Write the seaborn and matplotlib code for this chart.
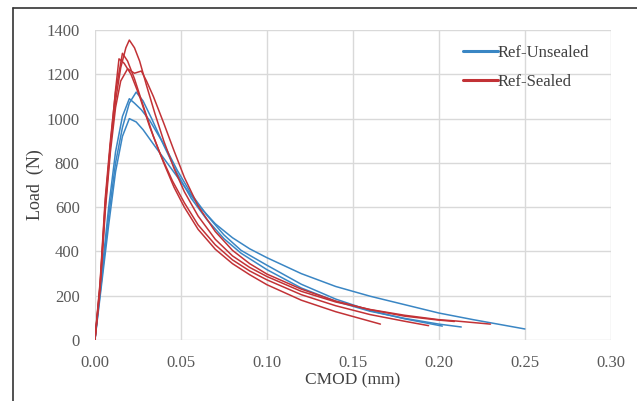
import numpy as np
import pandas as pd
import matplotlib
matplotlib.use("Agg")
import matplotlib.pyplot as plt
import seaborn as sns
from matplotlib.lines import Line2D

# CMOD (mm) / Load (N)
b1_cmod = [0, 0.004, 0.008, 0.012, 0.016, 0.020, 0.024, 0.028, 0.033, 0.040, 0.048, 0.056,
           0.065, 0.075, 0.085, 0.100, 0.120, 0.140, 0.160, 0.180, 0.200, 0.213]
b1_load = [0, 280, 560, 800, 960, 1070, 1120, 1080, 1000, 880, 750, 640,
           545, 458, 392, 318, 235, 175, 130, 98, 72, 59]

b2_cmod = [0, 0.004, 0.008, 0.012, 0.016, 0.020, 0.023, 0.027, 0.032, 0.040, 0.048, 0.056,
           0.065, 0.075, 0.085, 0.100, 0.120, 0.140, 0.160, 0.180, 0.202]
b2_load = [0, 300, 600, 850, 1010, 1090, 1070, 1040, 990, 885, 765, 660,
           565, 475, 405, 338, 252, 185, 133, 96, 63]

b3_cmod = [0, 0.004, 0.008, 0.012, 0.016, 0.020, 0.024, 0.028, 0.034, 0.042, 0.050, 0.060,
           0.070, 0.080, 0.090, 0.100, 0.120, 0.140, 0.160, 0.180, 0.200, 0.220, 0.240, 0.250]
b3_load = [0, 260, 520, 760, 920, 1000, 985, 950, 885, 800, 715, 610,
           525, 462, 412, 372, 300, 242, 198, 160, 122, 92, 64, 50]

r1_cmod = [0, 0.003, 0.006, 0.009, 0.012, 0.015, 0.018, 0.020, 0.023, 0.026, 0.030, 0.035,
           0.040, 0.046, 0.052, 0.060, 0.070, 0.080, 0.090, 0.100, 0.120, 0.140, 0.160, 0.180,
           0.200, 0.210, 0.230]
r1_load = [0, 250, 620, 880, 1080, 1230, 1320, 1355, 1320, 1260, 1150, 1020,
           900, 775, 670, 560, 455, 380, 328, 287, 220, 172, 138, 112,
           92, 86, 72]

r2_cmod = [0, 0.003, 0.006, 0.009, 0.012, 0.016, 0.019, 0.023, 0.028, 0.034, 0.040, 0.046,
           0.052, 0.060, 0.070, 0.080, 0.090, 0.100, 0.120, 0.140, 0.166]
r2_load = [0, 260, 640, 900, 1120, 1295, 1260, 1180, 1060, 920, 800, 690,
           600, 500, 410, 345, 295, 250, 180, 128, 72]

r3_cmod = [0, 0.003, 0.006, 0.009, 0.012, 0.014, 0.017, 0.021, 0.026, 0.032, 0.038, 0.045,
           0.052, 0.060, 0.070, 0.080, 0.090, 0.100, 0.120, 0.140, 0.160, 0.180, 0.194]
r3_load = [0, 240, 600, 880, 1130, 1270, 1250, 1200, 1100, 960, 840, 720,
           620, 520, 430, 362, 312, 272, 205, 155, 115, 85, 65]

r4_cmod = [0, 0.003, 0.006, 0.009, 0.012, 0.015, 0.019, 0.023, 0.027, 0.030, 0.034, 0.040,
           0.046, 0.052, 0.060, 0.070, 0.080, 0.090, 0.100, 0.120, 0.140, 0.160, 0.180, 0.200, 0.209]
r4_load = [0, 230, 580, 850, 1050, 1170, 1225, 1205, 1215, 1170, 1100, 980,
           855, 735, 605, 490, 405, 345, 298, 230, 176, 137, 108, 90, 84]

groups = ["Ref-Unsealed", "Ref-Sealed"]
colors = {"Ref-Unsealed": "#3a86c4", "Ref-Sealed": "#c23236"}

x_ticks = [0.00, 0.05, 0.10, 0.15, 0.20, 0.25, 0.30]
y_ticks = [0, 200, 400, 600, 800, 1000, 1200, 1400]


def BuildFrame():
    curves = [
        ("B1", groups[0], b1_cmod, b1_load),
        ("B2", groups[0], b2_cmod, b2_load),
        ("B3", groups[0], b3_cmod, b3_load),
        ("R1", groups[1], r1_cmod, r1_load),
        ("R2", groups[1], r2_cmod, r2_load),
        ("R3", groups[1], r3_cmod, r3_load),
        ("R4", groups[1], r4_cmod, r4_load),
    ]
    parts = []
    for name, grp, xs, ys in curves:
        parts.append(pd.DataFrame({"cmod": xs, "load": ys, "specimen": name, "group": grp}))
    return pd.concat(parts, ignore_index=True)


def PlotGraph(df):
    sns.set_style("white")
    plt.rcParams['font.family'] = ['Liberation Serif', 'DejaVu Serif']

    fig = plt.figure(figsize=(6.37, 4.01), dpi=100)
    ax = fig.add_axes([0.149, 0.152, 0.81, 0.773])

    sns.lineplot(data=df, x="cmod", y="load", hue="group", units="specimen",
                 estimator=None, sort=False, palette=colors, linewidth=1.1,
                 legend=False, ax=ax)

    ax.set_xlim(0, 0.30)
    ax.set_ylim(0, 1400)
    ax.set_xticks(x_ticks)
    ax.set_yticks(y_ticks)
    ax.set_xticklabels([f"{v:.2f}" for v in x_ticks])
    ax.grid(True, color="#d9d9d9", linewidth=1.0)
    ax.set_axisbelow(True)
    for s in ax.spines.values():
        s.set_visible(False)
    ax.tick_params(axis="both", length=0, labelsize=12, labelcolor="#595959")
    ax.tick_params(axis="x", pad=11)
    ax.tick_params(axis="y", pad=11)

    ax.set_xlabel("CMOD (mm)", fontsize=12.5, color="#404040", labelpad=1)
    ax.set_ylabel("Load  (N)", fontsize=13, color="#404040", labelpad=2)

    handles = [Line2D([0], [0], color=colors[g], linewidth=2.2) for g in groups]
    ax.legend(handles, groups, loc="upper left", bbox_to_anchor=(0.684, 1.0),
              frameon=False, fontsize=12, handlelength=2.1, handletextpad=0.0,
              labelspacing=0.75, labelcolor="#404040")

    # outer frame (cropped on the right and bottom)
    fig.add_artist(Line2D([13 / 637, 1.0], [1 - 8 / 401, 1 - 8 / 401],
                          transform=fig.transFigure, color="#333333", linewidth=1.2))
    fig.add_artist(Line2D([13 / 637, 13 / 637], [0.0, 1 - 8 / 401],
                          transform=fig.transFigure, color="#333333", linewidth=1.2))

    fig.savefig("out.png", dpi=100)


def main():
    df = BuildFrame()
    PlotGraph(df)


if __name__ == "__main__":
    main()
